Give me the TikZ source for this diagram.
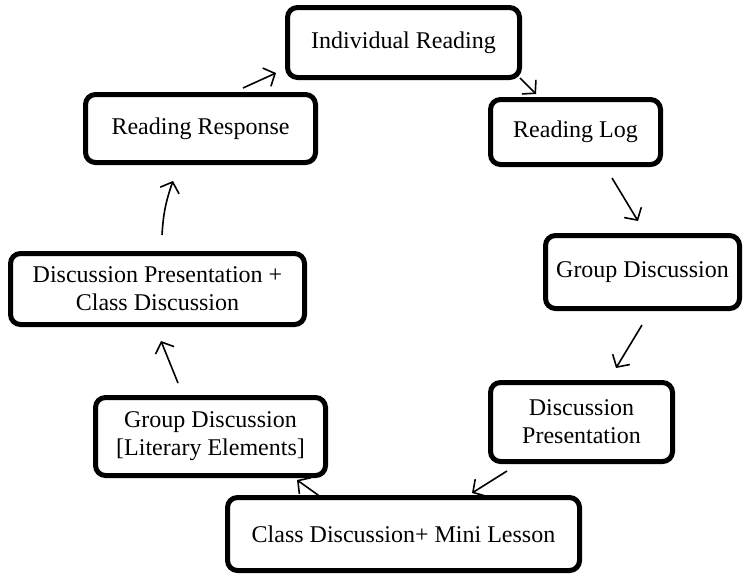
\documentclass[tikz,border=0pt]{standalone}
\usepackage{fontspec}
\setmainfont{Liberation Serif}
\usetikzlibrary{arrows.meta,shadows,backgrounds}
\begin{document}
\begin{tikzpicture}[x=1pt,y=-1pt,
  stagebox/.style={draw=black,line width=5pt,rounded corners=10pt,fill=white,
    align=center,inner sep=0pt,font=\fontsize{24}{28}\selectfont,
    drop shadow={shadow xshift=2pt,shadow yshift=-2pt,fill=black,opacity=0.25}},
  flow/.style={line width=1.6pt,-{Straight Barb[length=9pt,width=20pt,line width=1.6pt]}}]
\useasboundingbox (0,0) rectangle (744,574);
% stages
\node[stagebox,minimum width=232pt,minimum height=70pt] (ir) at (403.5,42.5) {Individual Reading};
\node[stagebox,minimum width=170pt,minimum height=65pt] (rl) at (575.5,132) {Reading Log};
\node[stagebox,minimum width=194pt,minimum height=73pt] (gd) at (642.5,272) {Group Discussion};
\node[stagebox,minimum width=182pt,minimum height=79pt] (dp) at (581.5,422) {Discussion\\Presentation};
\node[stagebox,minimum width=352pt,minimum height=73pt] (cd) at (403.5,534) {Class Discussion+ Mini Lesson};
\node[stagebox,minimum width=230pt,minimum height=78pt] (gl) at (210.5,436.5) {Group Discussion\\{[}Literary Elements{]}};
\node[stagebox,minimum width=294pt,minimum height=71pt] (dc) at (157.5,289) {Discussion Presentation +\\Class Discussion};
\node[stagebox,minimum width=230pt,minimum height=68pt] (rr) at (200.5,128.5) {Reading Response};
% arrow ends
\coordinate (a1s) at (243,88);  \coordinate (a1e) at (276,73);
\coordinate (a2s) at (520,78);  \coordinate (a2e) at (536,94);
\coordinate (a3s) at (612,178); \coordinate (a3e) at (638,221);
\coordinate (a4s) at (642,325); \coordinate (a4e) at (616,368);
\coordinate (a5s) at (507,471); \coordinate (a5e) at (472,493);
\coordinate (a6s) at (325,500); \coordinate (a6e) at (297,480);
\coordinate (a7s) at (178,383); \coordinate (a7e) at (161,341);
\coordinate (a8s) at (162,235); \coordinate (a8e) at (173,181);
\begin{scope}[on background layer]
\draw[flow] (a1s) -- (a1e);
\draw[flow] (a2s) -- (a2e);
\draw[flow] (a3s) -- (a3e);
\draw[flow] (a4s) -- (a4e);
\draw[flow] (a5s) -- (a5e);
\draw[flow] (a6s) -- (a6e);
\draw[flow] (a7s) -- (a7e);
\draw[flow] (a8s) to[bend left=8] (a8e);
\end{scope}
\end{tikzpicture}
\end{document}
